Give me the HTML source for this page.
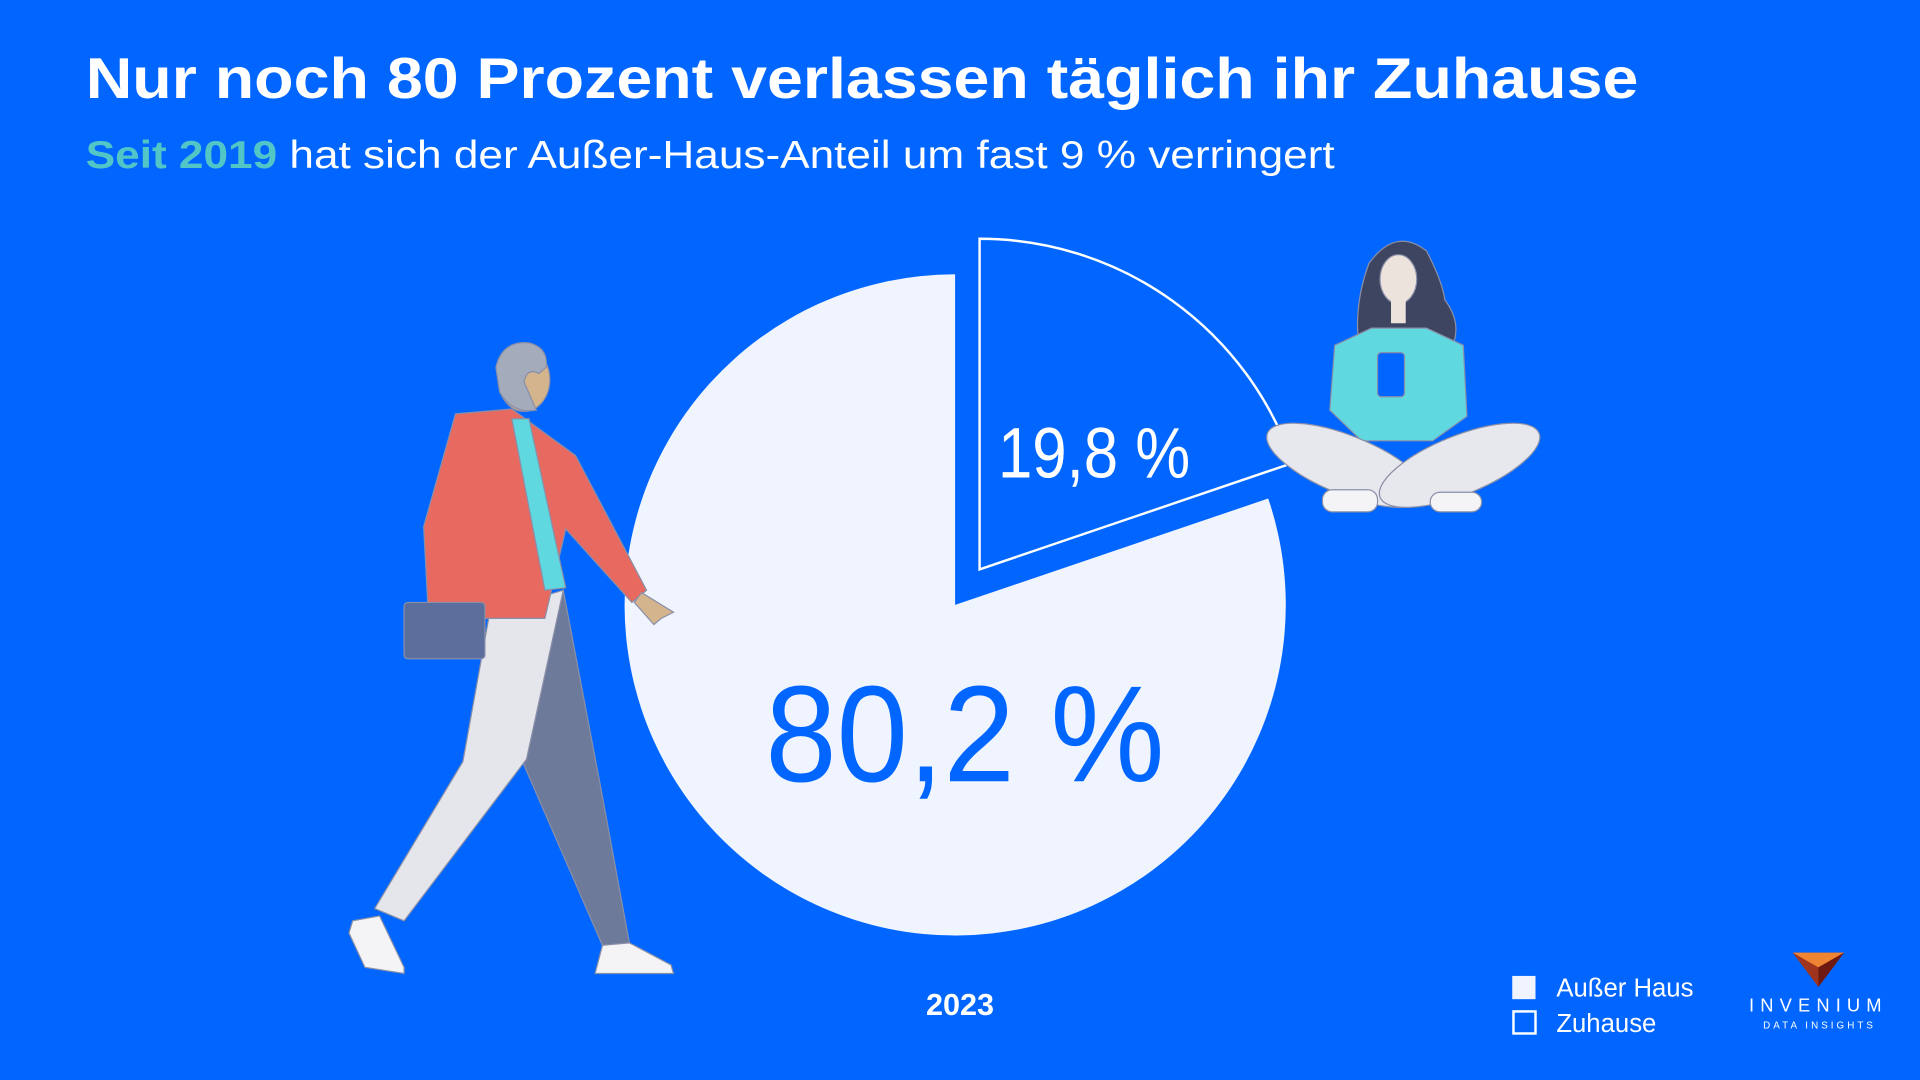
<!DOCTYPE html>
<html><head><meta charset="utf-8"><style>
html,body{margin:0;padding:0;background:#0066ff;}
svg{display:block;}
text{font-family:"Liberation Sans",sans-serif;}
</style></head><body>
<svg width="1920" height="1080" viewBox="0 0 1568 882" xmlns="http://www.w3.org/2000/svg">
<rect width="1568" height="882" fill="#0066ff"/>
<text x="70" y="80" font-size="47" font-weight="bold" fill="#fff" textLength="1268" lengthAdjust="spacingAndGlyphs">Nur noch 80 Prozent verlassen täglich ihr Zuhause</text>
<text x="70" y="137" font-size="32" fill="#fff" textLength="1020" lengthAdjust="spacingAndGlyphs"><tspan font-weight="bold" fill="#52c6c6">Seit 2019</tspan> hat sich der Außer-Haus-Anteil um fast 9 % verringert</text>

<!-- main pie: 80.2% from angle 71.3deg cw from top, to 360 -->
<path d="M780,494 L1035.7,407.1 A270,270 0 1,1 780,224 Z" fill="#f0f4ff"/>
<!-- exploded slice -->
<path d="M800,465 L800,195 A270,270 0 0,1 1055.7,378.1 Z" fill="#0066ff" stroke="#fff" stroke-width="2"/>

<text x="815" y="390" font-size="58" fill="#fff" textLength="157" lengthAdjust="spacingAndGlyphs">19,8 %</text>
<text x="625" y="638" font-size="112" fill="#0066ff" textLength="326" lengthAdjust="spacingAndGlyphs">80,2 %</text>

<!-- man -->
<g stroke="#8a8fa8" stroke-width="1">
<polygon points="430,520 460,482 490,640 514,770 492,772 428,625" fill="#6e7a9a"/>
<polygon points="400,500 460,482 430,620 330,752 306,742 378,622" fill="#e4e6ec"/>
<polygon points="288,752 310,748 330,790 330,795 298,790 285,762" fill="#f4f4f6"/>
<polygon points="492,772 514,770 548,788 550,795 486,795" fill="#f4f4f6"/>
<polygon points="372,338 418,334 470,372 528,482 516,492 462,432 445,505 350,505 346,430" fill="#e8695f"/>
<polygon points="418,342 432,342 462,480 445,482" fill="#5fd8e0"/>
<polygon points="524,484 550,500 540,505 534,510 518,492" fill="#d4b48c"/>
<rect x="330" y="492" width="66" height="46" rx="3" fill="#5c6f9c"/>
<ellipse cx="428" cy="310" rx="21" ry="26" fill="#d4b48c"/>
<path d="M405,300 Q410,278 432,280 Q448,284 446,300 L440,305 Q430,300 428,312 L438,335 Q418,338 408,320 Z" fill="#a4abbb"/>
</g>

<!-- woman -->
<g stroke="#8a8fa8" stroke-width="1">
<path d="M1118,215 Q1140,185 1165,205 Q1178,230 1180,245 Q1195,265 1185,285 L1110,285 Q1105,250 1118,215 Z" fill="#3d4560"/>
<polygon points="1090,282 1120,268 1165,268 1195,282 1198,340 1170,360 1112,360 1086,335" fill="#5fd8e0"/>
<ellipse cx="1142" cy="228" rx="15" ry="20" fill="#ece4dc"/>
<rect x="1136" y="244" width="12" height="20" fill="#ece4dc" stroke="none"/>
<ellipse cx="1100" cy="380" rx="70" ry="24" transform="rotate(22 1100 380)" fill="#e6e8ee"/>
<ellipse cx="1192" cy="380" rx="70" ry="24" transform="rotate(-22 1192 380)" fill="#e6e8ee"/>
<rect x="1080" y="400" width="45" height="18" rx="8" fill="#f4f4f6"/>
<rect x="1168" y="402" width="42" height="16" rx="8" fill="#f4f4f6"/>
<rect x="1125" y="288" width="22" height="36" rx="3" fill="#0066ff"/>
</g>

<text x="784" y="829" font-size="25" font-weight="bold" fill="#fff" text-anchor="middle">2023</text>

<rect x="1235" y="797" width="19" height="19" fill="#f0f4ff"/>
<rect x="1236" y="826" width="18" height="18" fill="none" stroke="#fff" stroke-width="2"/>
<text x="1271" y="814" font-size="21" fill="#fff">Außer Haus</text>
<text x="1271" y="843" font-size="21" fill="#fff">Zuhause</text>

<polygon points="1464,778 1506,778 1485,806" fill="#a0351f"/>
<polygon points="1464,778 1506,778 1485,790" fill="#ef8433"/>
<polygon points="1485,790 1506,778 1485,806" fill="#6e1a12"/>
<text x="1485" y="826" font-size="15" fill="#fff" text-anchor="middle" letter-spacing="5">INVENIUM</text>
<text x="1486" y="840" font-size="8" fill="#fff" text-anchor="middle" letter-spacing="2.5">DATA INSIGHTS</text>
</svg>
</body></html>
